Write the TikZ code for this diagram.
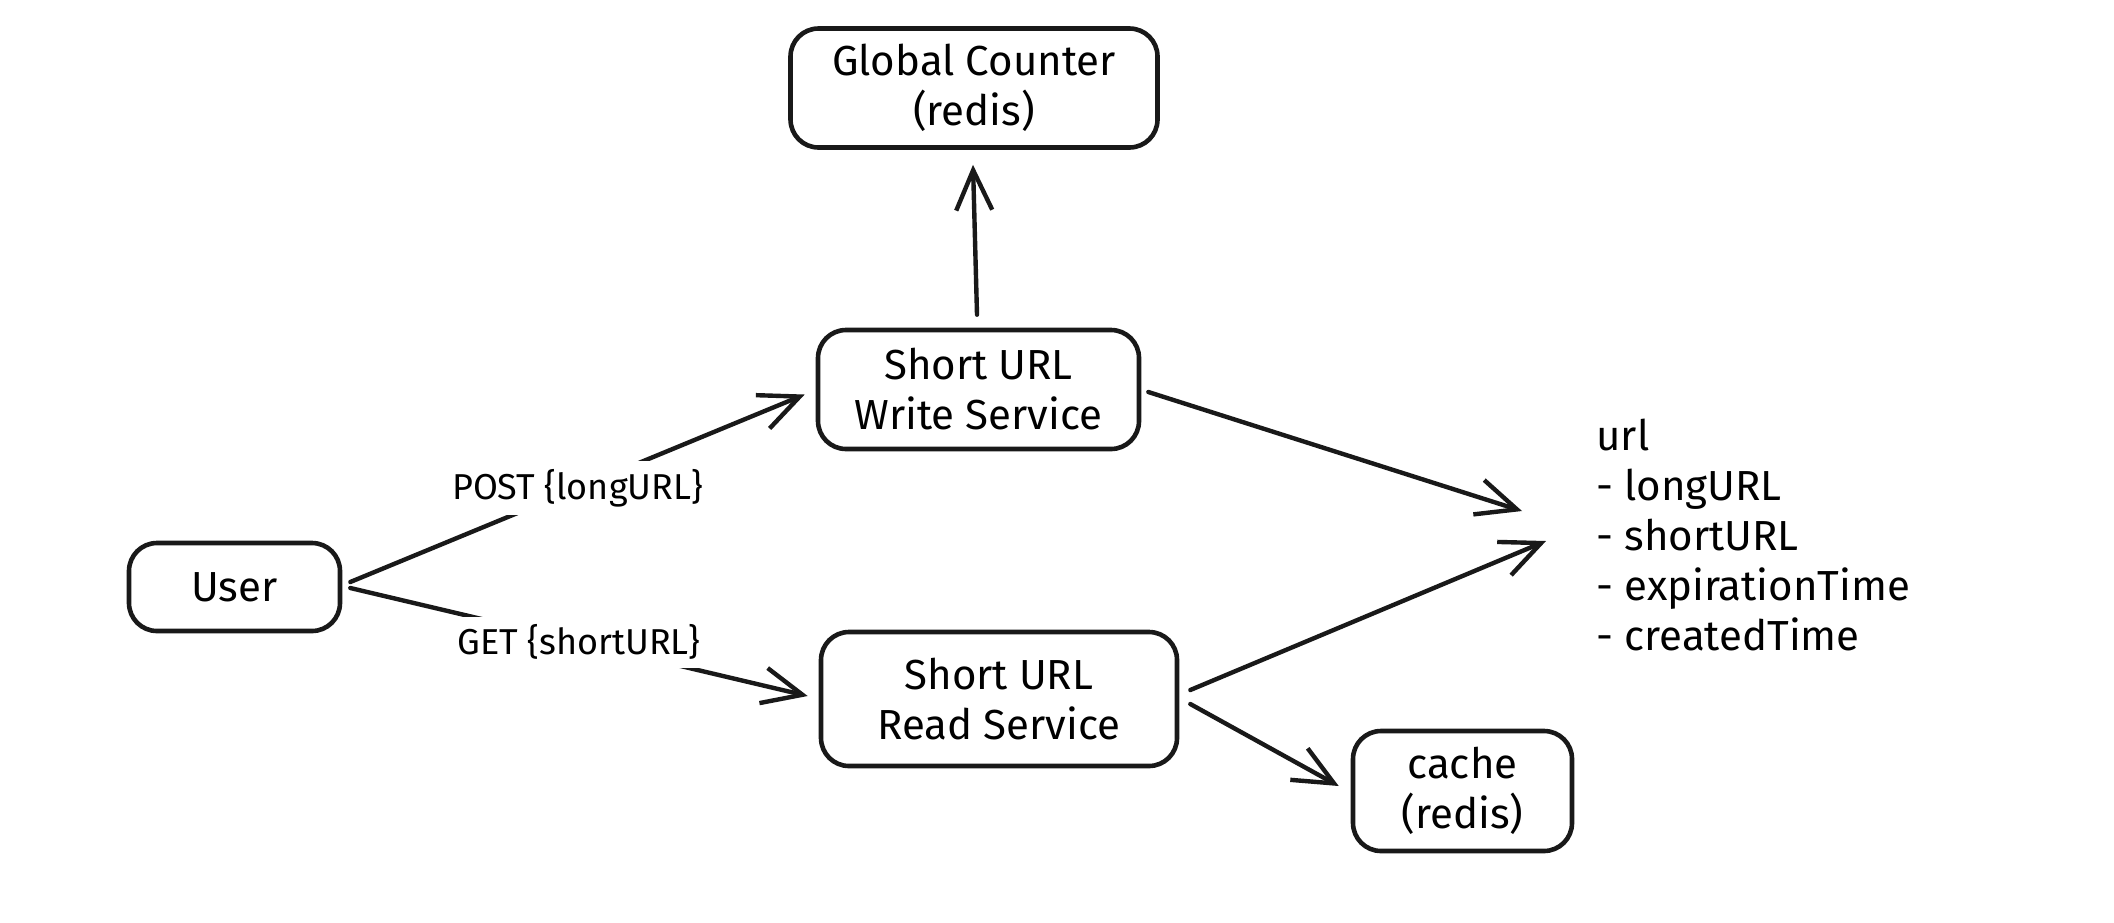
\documentclass[tikz,border=0pt]{standalone}
\usepackage{fontspec}
\setmainfont{Fira Sans}
\usetikzlibrary{arrows.meta,calc}
\begin{document}
\begin{tikzpicture}[x=0.5pt,y=-0.5pt,
  box/.style={draw=black!90,line width=2.3pt,rounded corners=14pt,inner sep=0pt,align=center,
    font=\fontsize{21}{25}\selectfont},
  conn/.style={draw=black!90,line width=2.2pt,line cap=round,
    -{Straight Barb[length=20pt,width=18pt,line width=2.2pt]}},
  lbl/.style={fill=white,inner sep=4pt,font=\fontsize{18}{21}\selectfont},
  txt/.style={align=left,inner sep=0pt,font=\fontsize{21}{25}\selectfont}]
\useasboundingbox (0,0) rectangle (2114,922);
\node[box,minimum width=183.5pt,minimum height=59.5pt] (global) at (974,88) {Global Counter\\(redis)};
\node[box,minimum width=160.5pt,minimum height=59.5pt] (write) at (978.5,389.5) {Short URL\\Write Service};
\node[box,minimum width=105.5pt,minimum height=44pt] (user) at (234.5,587) {User};
\node[box,minimum width=178pt,minimum height=67pt] (read) at (999,699) {Short URL\\Read Service};
\node[box,minimum width=109.5pt,minimum height=60pt] (cache) at (1462.5,791) {cache\\(redis)};
\node[txt,anchor=west] (url) at (1596,535) {url\\- longURL\\- shortURL\\- expirationTime\\- createdTime};
\draw[conn] ($(write.north)+(-1.5,-13)$) -- ($(global.south)+(-1,15)$);
\draw[conn] ($(user.east)+(8,-5)$) -- node[lbl] {POST \{longURL\}} ($(write.west)+(-11,5)$);
\draw[conn] ($(user.east)+(8,1)$) -- node[lbl] {GET \{shortURL\}} ($(read.west)+(-11,-3)$);
\draw[conn] ($(write.east)+(7,2.5)$) -- ($(url.west)+(-74,-24)$);
\draw[conn] ($(read.east)+(11,-9)$) -- ($(url.west)+(-50,6)$);
\draw[conn] ($(read.east)+(11,5)$) -- ($(cache.west)+(-12,-5)$);
\end{tikzpicture}
\end{document}
